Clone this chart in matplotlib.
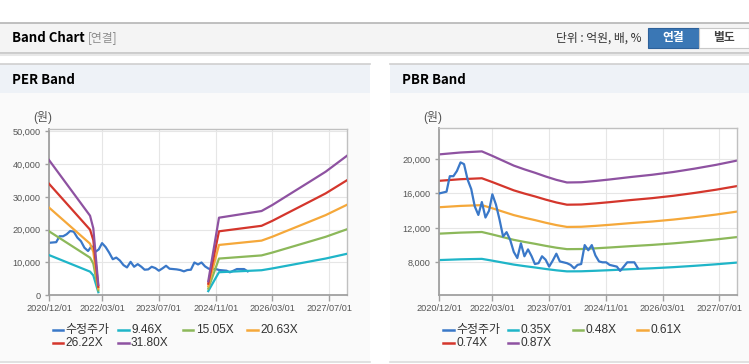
import numpy as np
import pandas as pd
import matplotlib
matplotlib.use('Agg')
import matplotlib.pyplot as plt
from matplotlib.patches import Rectangle
from matplotlib.lines import Line2D

plt.rcParams['font.family'] = ['Liberation Sans', 'Noto Sans CJK KR']

# monthly adjusted close (수정주가) from 2020/12
price = [16000, 16100, 16200, 18000, 18000, 18600, 19600, 19400, 17600, 16500,
         14500, 13500, 15000, 13200, 14000, 15900, 14700, 13000, 11000, 11500,
         10600, 9200, 8500, 10200, 8700, 9500, 8700, 7800, 7900, 8700,
         8300, 7500, 8200, 9000, 8100, 8000, 7900, 7700, 7300, 7700,
         7800, 10000, 9400, 10000, 8800, 8100, 8000, 8000, 7700, 7600,
         7500, 7000, 7500, 8000, 8000, 8000, 7300]

# EPS used for the PER band (gap = no estimate)
per_dates = ['2020-12-01', '2021-11-18', '2021-12-16', '2022-01-28', '2023-06-01',
             '2024-08-28', '2024-11-28', '2025-11-28', '2026-03-01', '2026-06-22',
             '2027-01-15', '2027-06-01', '2027-12-01']
eps = [1297, 763, 642, 99, np.nan,
       135, 744, 808, 866, 945,
       1089, 1185, 1338]
per_multiples = [9.46, 15.05, 20.63, 26.22, 31.80]

# BPS used for the PBR band
pbr_dates = ['2020-12-01', '2021-06-01', '2021-12-01', '2022-03-01', '2022-06-01',
             '2022-09-01', '2022-12-01', '2023-03-01', '2023-06-01', '2023-09-01',
             '2023-12-01', '2024-04-01', '2024-08-01', '2024-12-01', '2025-06-01',
             '2025-12-01', '2026-06-01', '2026-12-01', '2027-06-01', '2027-12-01']
bps = [23600, 23850, 24000, 23400, 22750,
       22100, 21600, 21150, 20650, 20200,
       19850, 19880, 20050, 20250, 20580,
       20880, 21250, 21700, 22200, 22780]
pbr_multiples = [0.35, 0.48, 0.61, 0.74, 0.87]

tick_dates = ['2020-12-01', '2022-03-01', '2023-07-01', '2024-11-01', '2026-03-01', '2027-07-01']
tick_labels = ['2020/12/01', '2022/03/01', '2023/07/01', '2024/11/01', '2026/03/01', '2027/07/01']

price_color = '#3a78c8'
band_colors = ['#1fb5c8', '#8cb85a', '#f5a83a', '#d4362c', '#8e52a1']

W, H = 749, 364
def fx(x):
    return x / W
def fy(y):
    return 1 - y / H

fig = plt.figure(figsize=(7.49, 3.64), dpi=100)
fig.patch.set_facecolor('white')

def rect(x0, y0, x1, y1, fc, ec='none', lw=0):
    fig.add_artist(Rectangle((fx(x0), fy(y1)), fx(x1) - fx(x0), fy(y0) - fy(y1),
                             transform=fig.transFigure, fc=fc, ec=ec, lw=lw, zorder=-10))

def hline(x0, x1, y, color, lw=1):
    fig.add_artist(Line2D([fx(x0), fx(x1)], [fy(y), fy(y)], transform=fig.transFigure,
                          color=color, lw=lw, zorder=-5))

# top header bar
rect(0, 22.7, 749, 53, '#f4f4f4')
hline(0, 749, 22.7, '#b5b5b5', 1.2)
hline(0, 749, 53, '#c4c4c4', 1.2)
hline(0, 749, 54.5, '#e8e8e8', 1.5)
fig.text(fx(12), fy(38), 'Band Chart', fontsize=9.5, fontweight='bold', va='center',
         family='Noto Sans CJK KR')
fig.text(fx(88), fy(38), '[연결]', fontsize=8.5, color='#8c8c8c', va='center',
         family='Noto Sans CJK KR')
fig.text(fx(641.7), fy(38), '단위 : 억원, 배, %', fontsize=8.5, color='#333333', va='center',
         ha='right', family='Noto Sans CJK KR')
rect(648, 28, 699, 48, '#3a77b5', '#2d619a', 0.8)
fig.text(fx(673.5), fy(38), '연결', fontsize=8.5, color='white', fontweight='bold',
         ha='center', va='center', family='Noto Sans CJK KR')
rect(699, 28, 749, 48, 'white', '#c8c8c8', 0.8)
fig.text(fx(724), fy(38), '별도', fontsize=8.5, color='#444444', fontweight='bold',
         ha='center', va='center', family='Noto Sans CJK KR')

# panels
for x0, x1, title, tx in [(0, 370, 'PER Band', 12), (390, 749, 'PBR Band', 401.7)]:
    rect(x0, 64, x1, 93, '#eef2f7')
    rect(x0, 93, x1, 362, '#fafafa')
    hline(x0, x1, 64, '#cfcfcf', 1.2)
    hline(x0, x1, 362, '#dcdcdc', 1.2)
    fig.text(fx(tx), fy(80), title, fontsize=9.5, fontweight='bold', va='center',
             family='Noto Sans CJK KR')

xmin, xmax = pd.Timestamp('2020-12-01'), pd.Timestamp('2027-12-01')
price_dates = pd.date_range('2020-12-01', periods=len(price), freq='MS')

def style(ax, yticks):
    ax.set_facecolor('white')
    ax.set_xlim(xmin, xmax)
    ax.set_xticks(pd.to_datetime(tick_dates))
    ax.set_xticklabels(tick_labels)
    ax.set_yticks(yticks)
    ax.set_yticklabels([f'{v:,}' for v in yticks])
    ax.grid(True, color='#e6e6e6', lw=0.8)
    ax.set_axisbelow(True)
    ax.tick_params(axis='x', length=4, width=1, color='#a0a0a0', labelsize=6.6,
                   labelcolor='#555555', pad=2)
    ax.tick_params(axis='y', length=3, width=1, color='#a0a0a0', labelsize=6.6,
                   labelcolor='#555555', pad=3)
    for s in ['left', 'bottom']:
        ax.spines[s].set_color('#a0a0a0')
        ax.spines[s].set_linewidth(1.3)
    for s in ['top', 'right']:
        ax.spines[s].set_color('#c0c0c0')
        ax.spines[s].set_linewidth(1)

def legend(x_cols, labels):
    colors = [price_color] + band_colors
    for i, lab in enumerate(labels):
        x = x_cols[i % 4]
        y = 330 if i < 4 else 343.3
        fig.add_artist(Line2D([fx(x), fx(x + 10.5)], [fy(y), fy(y)], transform=fig.transFigure,
                              color=colors[i], lw=1.8))
        fig.text(fx(x + 13), fy(y), lab, fontsize=8.6, color='#333333', va='center')

# PER band
ax1 = fig.add_axes([fx(49), fy(295.3), fx(347) - fx(49), (295.3 - 129) / H])
style(ax1, [0, 10000, 20000, 30000, 40000, 50000])
ax1.set_ylim(0, 50700)
ax1.plot(price_dates, price, color=price_color, lw=1.6, zorder=2)
pd_per = pd.to_datetime(per_dates)
for m, c in zip(per_multiples, band_colors):
    ax1.plot(pd_per, np.array(eps) * m, color=c, lw=1.6, zorder=3)
fig.text(fx(33), fy(117), '(원)', fontsize=8.6, color='#555555', va='center')
legend([52.7, 118, 182.7, 247.3], ['수정주가'] + [f'{m:.2f}X' for m in per_multiples])

# PBR band
ax2 = fig.add_axes([fx(439.3), fy(295.3), (737.3 - 439.3) / W, (295.3 - 128.3) / H])
style(ax2, [8000, 12000, 16000, 20000])
ax2.set_ylim(4170, 23560)
pd_pbr = pd.to_datetime(pbr_dates)
for m, c in zip(pbr_multiples, band_colors):
    ax2.plot(pd_pbr, np.array(bps) * m, color=c, lw=1.6, zorder=2)
ax2.plot(price_dates, price, color=price_color, lw=1.6, zorder=3)
fig.text(fx(423), fy(117), '(원)', fontsize=8.6, color='#555555', va='center')
legend([443.3, 507.7, 572.7, 637.3], ['수정주가'] + [f'{m:.2f}X' for m in pbr_multiples])

fig.savefig('out.png', dpi=100)
